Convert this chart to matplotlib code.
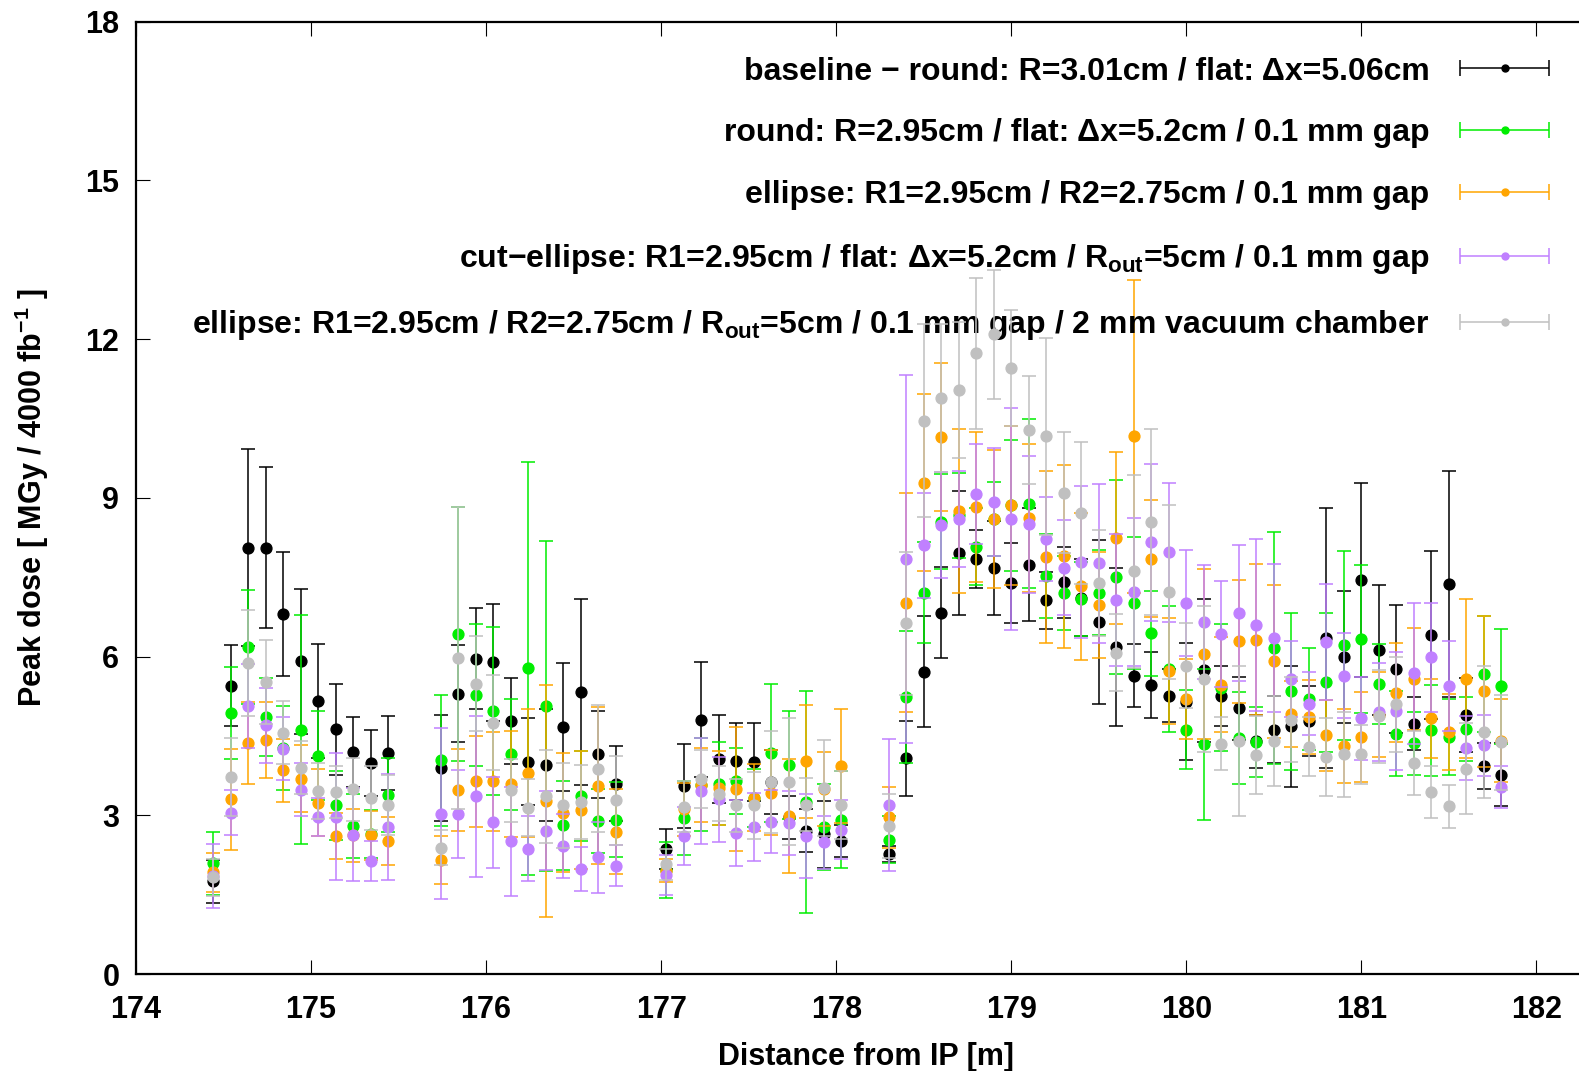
import numpy as np
import matplotlib
matplotlib.use("Agg")
import matplotlib.pyplot as plt
from matplotlib.container import ErrorbarContainer
from matplotlib.legend_handler import HandlerErrorbar

plt.rcParams['font.family'] = ['Liberation Sans', 'DejaVu Sans']
plt.rcParams['font.weight'] = 'bold'
plt.rcParams['mathtext.fontset'] = 'custom'
plt.rcParams['mathtext.bf'] = 'Liberation Sans:bold'
plt.rcParams['mathtext.rm'] = 'Liberation Sans:bold'
plt.rcParams['mathtext.default'] = 'bf'

# positions along the beam line [m]
dist = [174.44, 174.54, 174.64, 174.74, 174.84, 174.94, 175.04, 175.14, 175.24, 175.34, 175.44,
        175.74, 175.84, 175.94, 176.04, 176.14, 176.24, 176.34, 176.44, 176.54, 176.64, 176.74,
        177.03, 177.13, 177.23, 177.33, 177.43, 177.53, 177.63, 177.73, 177.83, 177.93, 178.03,
        178.3, 178.4, 178.5, 178.6, 178.7, 178.8, 178.9, 179.0, 179.1, 179.2, 179.3, 179.4,
        179.5, 179.6, 179.7, 179.8, 179.9, 180.0, 180.1, 180.2, 180.3, 180.4, 180.5, 180.6,
        180.7, 180.8, 180.9, 181.0, 181.1, 181.2, 181.3, 181.4, 181.5, 181.6, 181.7, 181.8]

# baseline
baseline = [1.75, 5.45, 8.06, 8.06, 6.81, 5.91, 5.16, 4.63, 4.20, 3.99, 4.18,
            3.90, 5.30, 5.96, 5.89, 4.78, 4.01, 3.95, 4.67, 5.33, 4.15, 3.60,
            2.36, 3.55, 4.81, 4.07, 4.02, 4.01, 3.63, 2.96, 2.71, 2.64, 2.52,
            2.26, 4.08, 5.71, 6.83, 7.96, 7.84, 7.68, 7.39, 7.74, 7.06, 7.40, 7.11,
            6.65, 6.18, 5.64, 5.46, 5.26, 5.15, 5.74, 5.26, 5.02, 4.40, 4.62, 4.68,
            4.78, 6.35, 5.99, 7.45, 6.13, 5.77, 4.73, 6.41, 7.37, 4.89, 3.93, 3.77]
baseline_err = [0.40, 0.77, 1.86, 1.52, 1.17, 1.37, 1.07, 0.86, 0.66, 0.63, 0.70,
                1.00, 0.92, 0.96, 1.10, 0.82, 0.82, 1.06, 1.21, 1.76, 0.83, 0.71,
                0.38, 0.79, 1.08, 0.83, 0.73, 0.74, 0.60, 0.40, 0.40, 0.63, 0.30,
                0.15, 0.71, 1.05, 0.86, 1.17, 0.55, 0.89, 0.76, 1.06, 0.53, 0.67, 0.73,
                1.55, 1.50, 0.60, 0.63, 0.50, 1.10, 1.35, 0.57, 0.60, 0.50, 0.64, 1.14,
                0.66, 2.45, 1.25, 1.84, 1.23, 1.21, 0.50, 1.59, 2.14, 0.70, 0.43, 0.60]

# round 2.95 cm
round_gap = [2.09, 4.94, 6.18, 4.86, 4.27, 4.62, 4.13, 3.19, 2.80, 2.65, 3.39,
             4.04, 6.43, 5.28, 4.97, 4.15, 5.78, 5.07, 2.81, 3.36, 2.89, 2.92,
             1.97, 2.95, 3.58, 3.60, 3.65, 3.33, 4.18, 3.95, 3.25, 2.78, 2.92,
             2.54, 5.24, 7.21, 8.55, 8.67, 8.08, 8.60, 8.86, 8.89, 7.52, 7.21, 7.09,
             7.21, 7.50, 7.01, 6.44, 5.76, 4.62, 4.34, 5.41, 4.46, 4.38, 6.16, 5.34,
             5.20, 5.51, 6.21, 6.33, 5.48, 4.54, 4.36, 4.61, 4.48, 4.63, 5.67, 5.44]
round_gap_err = [0.60, 0.87, 1.07, 0.73, 0.80, 2.17, 0.85, 0.65, 0.60, 0.45, 0.70,
                 1.24, 2.40, 1.34, 1.59, 1.05, 3.90, 3.12, 0.84, 0.85, 0.60, 0.71,
                 0.53, 0.70, 0.88, 0.78, 0.63, 0.55, 1.31, 1.02, 2.10, 0.82, 0.91,
                 0.45, 1.25, 0.96, 0.90, 0.80, 0.73, 0.70, 1.24, 1.60, 0.80, 0.70, 0.70,
                 0.80, 1.83, 1.25, 0.80, 1.19, 0.74, 1.42, 1.20, 0.87, 0.66, 2.20, 1.49,
                 0.96, 1.32, 1.78, 1.40, 0.76, 0.80, 0.60, 0.86, 0.72, 0.60, 1.10, 1.09]

# ellipse
ellipse_gap = [1.92, 3.30, 4.37, 4.43, 3.85, 3.69, 3.24, 2.61, 2.62, 2.62, 2.51,
               2.15, 3.48, 3.64, 3.64, 3.59, 3.80, 3.27, 3.05, 3.10, 3.56, 2.69,
               1.95, 3.11, 3.58, 3.52, 3.50, 3.33, 3.43, 2.99, 4.02, 3.50, 3.93,
               2.96, 7.02, 9.29, 10.15, 8.76, 8.82, 8.60, 8.86, 8.62, 7.88, 7.90, 7.33,
               6.97, 8.24, 10.16, 7.85, 5.72, 5.20, 6.05, 5.47, 6.29, 6.32, 5.91, 4.92,
               4.85, 4.51, 4.31, 4.48, 4.90, 5.32, 5.58, 4.83, 4.58, 5.58, 5.34, 4.41]
ellipse_gap_err = [0.37, 0.96, 0.77, 0.72, 0.60, 0.63, 0.64, 0.44, 0.50, 0.46, 0.45,
                   0.45, 0.78, 0.86, 0.94, 1.00, 1.21, 2.20, 1.13, 1.11, 1.48, 0.80,
                   0.22, 0.50, 0.70, 0.70, 1.17, 0.63, 0.80, 1.08, 1.07, 0.70, 1.07,
                   0.57, 2.07, 1.67, 1.39, 1.55, 1.42, 1.31, 1.50, 1.40, 1.63, 1.73, 1.39,
                   1.00, 1.62, 2.95, 1.10, 1.00, 0.75, 1.60, 0.90, 1.16, 1.43, 1.45, 0.62,
                   0.70, 0.67, 0.70, 0.85, 0.80, 0.93, 0.96, 0.75, 0.72, 1.50, 1.43, 0.78]

# cut-ellipse
cut_ellipse = [1.85, 3.05, 5.07, 4.70, 4.26, 3.48, 2.97, 2.97, 2.63, 2.13, 2.78,
               3.03, 3.03, 3.36, 2.87, 2.51, 2.37, 2.71, 2.42, 1.98, 2.21, 2.05,
               1.87, 2.61, 3.46, 3.30, 2.67, 2.78, 2.88, 2.85, 2.61, 2.49, 2.73,
               3.20, 7.84, 8.10, 8.48, 8.60, 9.07, 8.93, 8.60, 8.50, 8.22, 7.68, 7.79,
               7.76, 7.07, 7.22, 8.16, 7.97, 7.02, 6.66, 6.43, 6.82, 6.60, 6.35, 5.58,
               5.11, 6.27, 5.64, 4.83, 4.95, 4.97, 5.68, 5.99, 5.44, 4.27, 4.32, 3.53]
cut_ellipse_err = [0.60, 0.42, 0.79, 0.71, 0.60, 0.50, 0.36, 1.20, 0.88, 0.38, 1.00,
                   1.62, 0.83, 1.52, 0.86, 1.03, 0.62, 0.75, 0.60, 0.42, 0.67, 0.38,
                   0.38, 0.55, 1.00, 0.80, 0.62, 0.65, 0.60, 0.60, 0.80, 0.50, 0.55,
                   1.25, 3.48, 1.00, 1.00, 0.90, 0.94, 1.02, 2.10, 1.30, 0.80, 0.90, 1.43,
                   1.50, 1.24, 1.40, 1.48, 1.32, 1.00, 1.08, 1.00, 1.29, 1.62, 1.40, 0.72,
                   0.60, 1.10, 0.80, 0.78, 0.93, 1.12, 1.33, 1.03, 0.85, 0.60, 0.58, 0.40]

# ellipse + vacuum chamber
vacuum = [1.83, 3.73, 5.88, 5.52, 4.56, 3.90, 3.46, 3.44, 3.49, 3.33, 3.20,
          2.39, 5.97, 5.49, 4.75, 3.47, 3.14, 3.36, 3.19, 3.25, 3.88, 3.28,
          2.07, 3.16, 3.69, 3.41, 3.19, 3.19, 3.63, 3.63, 3.20, 3.52, 3.19,
          2.80, 6.63, 10.46, 10.88, 11.04, 11.73, 12.09, 11.46, 10.28, 10.16, 9.10, 8.72,
          7.39, 6.07, 7.61, 8.55, 7.22, 5.83, 5.58, 4.35, 4.41, 4.14, 4.41, 4.81,
          4.30, 4.10, 4.15, 4.15, 4.87, 5.10, 3.99, 3.44, 3.17, 3.88, 4.58, 4.38]
vacuum_err = [0.35, 0.74, 1.00, 0.80, 0.60, 0.50, 0.53, 0.50, 0.60, 0.60, 0.57,
              0.33, 2.85, 0.90, 0.90, 0.60, 0.54, 0.88, 0.80, 0.70, 1.20, 0.84,
              0.30, 0.48, 0.55, 0.52, 0.50, 0.63, 0.96, 1.20, 0.50, 0.91, 0.64,
              0.60, 1.35, 1.83, 1.40, 1.29, 1.43, 1.22, 1.10, 1.02, 1.87, 1.14, 1.34,
              1.00, 0.73, 1.83, 1.76, 1.64, 0.80, 1.38, 0.50, 1.42, 0.74, 0.85, 0.80,
              0.56, 0.74, 0.80, 0.55, 0.88, 0.90, 0.60, 0.49, 0.41, 0.86, 1.25, 0.90]

labels = [
    'baseline \u2212 round: R=3.01cm / flat: \u0394x=5.06cm',
    'round: R=2.95cm / flat: \u0394x=5.2cm / 0.1 mm gap',
    'ellipse: R1=2.95cm / R2=2.75cm / 0.1 mm gap',
    'cut\u2212ellipse: R1=2.95cm / flat: \u0394x=5.2cm / R$_{out}$=5cm / 0.1 mm gap',
    'ellipse: R1=2.95cm / R2=2.75cm / R$_{out}$=5cm / 0.1 mm gap / 2 mm vacuum chamber',
]
colors = ['black', '#00ee00', '#ffa500', '#c080ff', '#c0c0c0']
series = [(baseline, baseline_err), (round_gap, round_gap_err), (ellipse_gap, ellipse_gap_err),
          (cut_ellipse, cut_ellipse_err), (vacuum, vacuum_err)]

fig = plt.figure( figsize=( 15.79, 10.71 ), dpi=100 )
W, H = 1579.0, 1071.0
ax = fig.add_axes( [136 / W, (H - 974) / H, 1460 / W, (974 - 21.7) / H] )

handles = []
for i, ((vals, errs), c, lab) in enumerate( zip( series, colors, labels ) ):
    ax.errorbar( dist, vals, yerr=errs, fmt='o', color=c, ms=7.8, elinewidth=1.1,
                 capsize=5, capthick=1.1, zorder=2 + i, label='_nolegend_' )
    # horizontal proxy for the gnuplot style key
    h = ax.errorbar( [np.nan], [np.nan], xerr=[1.0], fmt='o', color=c, ms=5,
                     elinewidth=1.1, capsize=6, capthick=1.1, label=lab )
    handles.append( h )

ax.set_xlim( 174, 182.34 )
ax.set_ylim( 0, 18 )
ax.set_xticks( range( 174, 183 ) )
ax.set_yticks( range( 0, 19, 3 ) )
ax.tick_params( direction='in', length=10, width=0.8, labelsize=22, top=True, right=False )
ax.tick_params( axis='x', pad=15 )
ax.tick_params( axis='y', pad=12 )
for s in ax.spines.values():
    s.set_linewidth( 1.6 )

ax.set_xlabel( 'Distance from IP [m]', fontsize=22, fontweight='bold' )
ax.xaxis.set_label_coords( 0.5, -0.071 )
ax.set_ylabel( 'Peak dose [ MGy / 4000 fb$^{-1}$ ]', fontsize=22, fontweight='bold' )
ax.yaxis.set_label_coords( -0.058, 0.5 )

leg = ax.legend( handles=handles, labels=labels, loc='upper right',
                 bbox_to_anchor=( 1551 / W, 1 - 56 / H ), bbox_transform=fig.transFigure,
                 handler_map={ErrorbarContainer: HandlerErrorbar( xerr_size=1.4 )},
                 markerfirst=False, frameon=False, fontsize=23, handlelength=2.9,
                 handletextpad=0.9, labelspacing=1.0, borderpad=0, borderaxespad=0 )

fig.savefig( 'out.png', dpi=100 )
